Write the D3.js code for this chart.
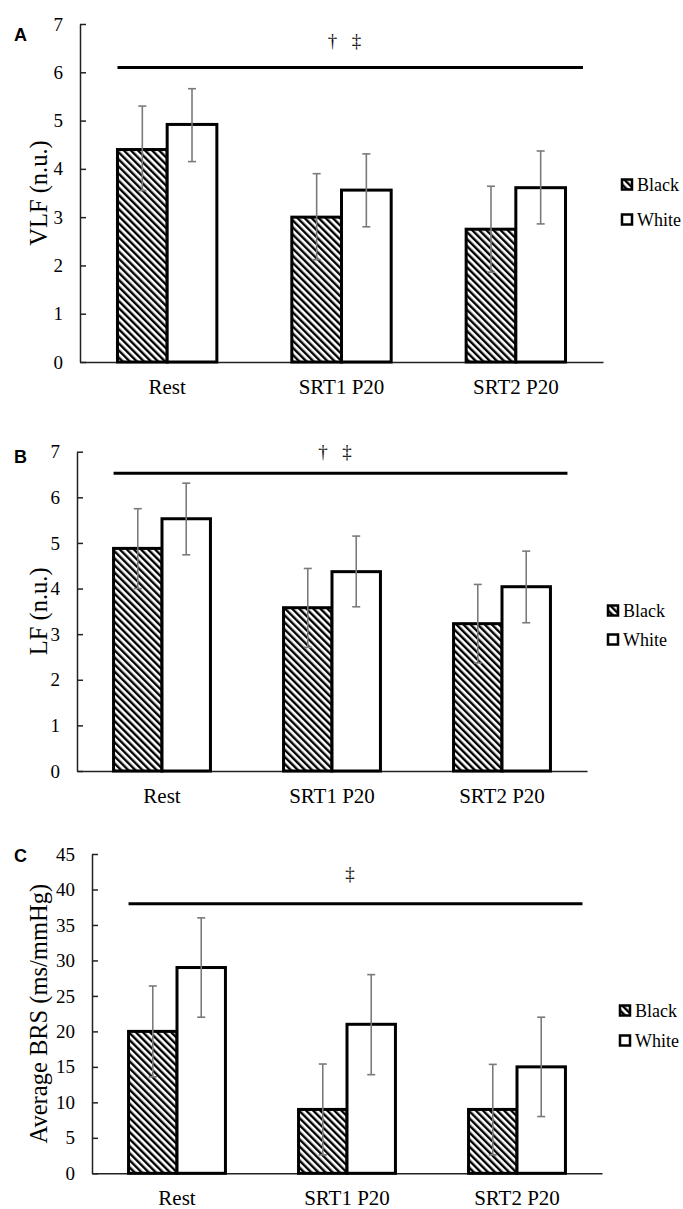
<!DOCTYPE html>
<meta charset="utf-8">
<script src="https://d3js.org/d3.v7.min.js"></script>
<style>
  body { margin: 0; background: #fff; }
</style>
<div id="chart"></div>
<script>
// categories and series
var categories = ["Rest", "SRT1 P20", "SRT2 P20"];
var groups = ["Black", "White"];

// panel A - VLF
var vlfBlack   = [4.40, 3.00, 2.75];
var vlfBlackLo = [3.55, 2.12, 1.86];
var vlfBlackHi = [5.30, 3.90, 3.64];
var vlfWhite   = [4.92, 3.56, 3.61];
var vlfWhiteLo = [4.15, 2.80, 2.86];
var vlfWhiteHi = [5.66, 4.31, 4.37];

// panel B - LF
var lfBlack   = [4.88, 3.58, 3.23];
var lfBlackLo = [4.00, 2.71, 2.37];
var lfBlackHi = [5.75, 4.44, 4.09];
var lfWhite   = [5.53, 4.37, 4.04];
var lfWhiteLo = [4.74, 3.60, 3.25];
var lfWhiteHi = [6.31, 5.15, 4.82];

// panel C - BRS
var brsBlack   = [20, 9, 9];
var brsBlackLo = [13.6, 2.6, 2.6];
var brsBlackHi = [26.4, 15.4, 15.35];
var brsWhite   = [29, 21, 15];
var brsWhiteLo = [22, 13.9, 8];
var brsWhiteHi = [36, 28, 22];

// axes / annotations
var ticksNU  = [0, 1, 2, 3, 4, 5, 6, 7];
var ticksBRS = [0, 5, 10, 15, 20, 25, 30, 35, 40, 45];
var sigLevel = [6.1, 6.53, 38];      // height of the bracket line
var sigMarkY = [6.67, 7.0, 42.3];    // height of the dagger marks
var sigMarks = [["†", "‡"], ["†", "‡"], ["‡"]];

var serif = "'Liberation Serif', 'Times New Roman', serif";

var svg = d3.select("#chart").append("svg")
  .attr("width", 683)
  .attr("height", 1209);

svg.append("rect").attr("width", 683).attr("height", 1209).attr("fill", "#fff");

// hatch pattern for Black
var pat = svg.append("defs").append("pattern")
  .attr("id", "hatch")
  .attr("patternUnits", "userSpaceOnUse")
  .attr("width", 5).attr("height", 5)
  .attr("patternTransform", "rotate(-45)");
pat.append("rect").attr("width", 5).attr("height", 5).attr("fill", "#fff");
pat.append("rect").attr("width", 2.4).attr("height", 5).attr("fill", "#000");

var panels = [
  {letter: "A", title: "VLF (n.u.)", ticks: ticksNU, max: 7,
   black: vlfBlack, blackLo: vlfBlackLo, blackHi: vlfBlackHi,
   white: vlfWhite, whiteLo: vlfWhiteLo, whiteHi: vlfWhiteHi,
   left: 80, right: 603, top: 24, bottom: 362, letterY: 35, legX: 621, legY: [185, 220]},
  {letter: "B", title: "LF (n.u.)", ticks: ticksNU, max: 7,
   black: lfBlack, blackLo: lfBlackLo, blackHi: lfBlackHi,
   white: lfWhite, whiteLo: lfWhiteLo, whiteHi: lfWhiteHi,
   left: 77, right: 587, top: 451.7, bottom: 771, letterY: 457, legX: 607, legY: [611, 640]},
  {letter: "C", title: "Average BRS (ms/mmHg)", ticks: ticksBRS, max: 45,
   black: brsBlack, blackLo: brsBlackLo, blackHi: brsBlackHi,
   white: brsWhite, whiteLo: brsWhiteLo, whiteHi: brsWhiteHi,
   left: 92, right: 602, top: 854, bottom: 1173.3, letterY: 856, legX: 619, legY: [1011, 1041]}
];

panels.forEach(function(p, i) {
  var g = svg.append("g");

  var x = d3.scaleBand().domain(categories)
    .range([p.left, p.right])
    .paddingInner(0.43).paddingOuter(0.215);
  var xs = d3.scaleBand().domain(groups).range([0, x.bandwidth()]);
  var y = d3.scaleLinear().domain([0, p.max]).range([p.bottom, p.top]);

  // y axis, ticks pointing inward
  var ya = g.append("g")
    .attr("transform", "translate(" + p.left + ",0)")
    .call(d3.axisLeft(y).tickValues(p.ticks).tickFormat(d3.format("d"))
      .tickSizeInner(-6).tickSizeOuter(0).tickPadding(17));
  ya.select(".domain").attr("stroke", "#222").attr("stroke-width", 1.5);
  ya.selectAll(".tick line").attr("stroke", "#222").attr("stroke-width", 1.5);
  ya.selectAll(".tick text")
    .style("font-family", serif).style("font-size", "19px").attr("fill", "#000");

  // x axis line + category labels
  var xa = g.append("g")
    .attr("transform", "translate(0," + p.bottom + ")")
    .call(d3.axisBottom(x).tickSize(0).tickPadding(17));
  xa.select(".domain").attr("stroke", "#222").attr("stroke-width", 1.5);
  xa.selectAll(".tick text")
    .style("font-family", serif).style("font-size", "21px").attr("fill", "#000");

  // axis title
  g.append("text")
    .attr("transform", "translate(38," + ((p.top + p.bottom) / 2) + ") rotate(-90)")
    .attr("text-anchor", "middle")
    .attr("dy", "0.35em")
    .style("font-family", serif).style("font-size", "24.5px")
    .text(p.title);

  // panel letter
  g.append("text")
    .attr("x", 14).attr("y", p.letterY)
    .attr("dy", "0.35em")
    .style("font-family", "'Liberation Sans', Arial, sans-serif")
    .style("font-weight", "bold")
    .style("font-size", "18px")
    .text(p.letter);

  // bars
  var rows = [];
  categories.forEach(function(c, j) {
    rows.push({cat: c, grp: "Black", v: p.black[j], lo: p.blackLo[j], hi: p.blackHi[j]});
    rows.push({cat: c, grp: "White", v: p.white[j], lo: p.whiteLo[j], hi: p.whiteHi[j]});
  });

  g.selectAll(".bar").data(rows).enter().append("rect")
    .attr("x", d => x(d.cat) + xs(d.grp))
    .attr("y", d => y(d.v))
    .attr("width", xs.bandwidth())
    .attr("height", d => y(0) - y(d.v))
    .attr("fill", d => d.grp == "Black" ? "url(#hatch)" : "#fff")
    .attr("stroke", "#000")
    .attr("stroke-width", 3);

  // error bars
  var eb = g.selectAll(".err").data(rows).enter().append("g")
    .attr("stroke", "#7a7a7a").attr("stroke-width", 1.6);
  var cx = d => x(d.cat) + xs(d.grp) + xs.bandwidth() / 2;
  eb.append("line")
    .attr("x1", cx).attr("x2", cx)
    .attr("y1", d => y(d.lo)).attr("y2", d => y(d.hi));
  eb.append("line")
    .attr("x1", d => cx(d) - 4).attr("x2", d => cx(d) + 4)
    .attr("y1", d => y(d.hi)).attr("y2", d => y(d.hi));
  eb.append("line")
    .attr("x1", d => cx(d) - 4).attr("x2", d => cx(d) + 4)
    .attr("y1", d => y(d.lo)).attr("y2", d => y(d.lo));

  // significance line
  var x0 = x(categories[0]);
  var x1 = x(categories[2]) + x.bandwidth() + x.step() * 0.1;
  g.append("line")
    .attr("x1", x0).attr("x2", x1)
    .attr("y1", y(sigLevel[i])).attr("y2", y(sigLevel[i]))
    .attr("stroke", "#000").attr("stroke-width", 3);

  var mid = x(categories[1]) + x.bandwidth() / 2;
  var marks = sigMarks[i];
  g.selectAll(".mark").data(marks).enter().append("text")
    .attr("x", (d, k) => mid + (k - (marks.length - 1) / 2) * 24 + 3)
    .attr("y", y(sigMarkY[i]))
    .attr("dy", "0.35em")
    .attr("text-anchor", "middle")
    .style("font-family", serif).style("font-size", "19px")
    .attr("fill", "#111")
    .text(d => d);

  // legend
  var leg = g.selectAll(".leg").data(groups).enter().append("g")
    .attr("transform", (d, k) => "translate(" + p.legX + "," + p.legY[k] + ")");
  leg.append("rect")
    .attr("x", 1).attr("y", -5.5)
    .attr("width", 10).attr("height", 10)
    .attr("fill", d => d == "Black" ? "url(#hatch)" : "#fff")
    .attr("stroke", "#000").attr("stroke-width", 2.5);
  leg.append("text")
    .attr("x", 16).attr("dy", "0.35em")
    .style("font-family", serif).style("font-size", "18px")
    .text(d => d);
});
</script>
